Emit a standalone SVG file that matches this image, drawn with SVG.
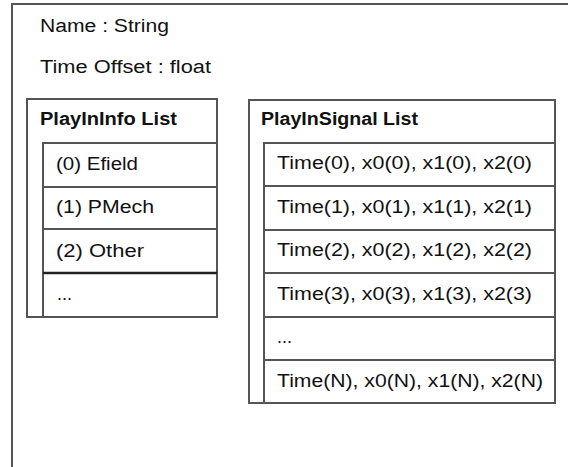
<svg xmlns="http://www.w3.org/2000/svg" width="568" height="467" viewBox="0 0 568 467">
<style>
.ln{fill:none;stroke:#555;stroke-width:2}
.t{font-family:"Liberation Sans",Arial,sans-serif;font-size:18px;fill:#111}
.b{font-weight:bold}
</style>
<rect width="568" height="467" fill="#fff"/>
<g id="outer">
<path class="ln" d="M12,467 V4 H568"/>
<text class="t" x="40" y="32" textLength="129" lengthAdjust="spacingAndGlyphs">Name : String</text>
<text class="t" x="40" y="73" textLength="171" lengthAdjust="spacingAndGlyphs">Time Offset : float</text>
</g>
<g id="playininfo">
<rect class="ln" x="27" y="99" width="190" height="218"/>
<text class="t b" x="40" y="125" textLength="137" lengthAdjust="spacingAndGlyphs">PlayInInfo List</text>
<path class="ln" d="M43,317 V143 H217 M43,187 H217 M43,229 H217"/>
<path d="M43,273 H217" stroke="#222" stroke-width="2.5"/>
<text class="t" x="56" y="170" textLength="82" lengthAdjust="spacingAndGlyphs">(0) Efield</text>
<text class="t" x="56" y="213" textLength="98" lengthAdjust="spacingAndGlyphs">(1) PMech</text>
<text class="t" x="56" y="257" textLength="88" lengthAdjust="spacingAndGlyphs">(2) Other</text>
<text class="t" x="57" y="300">...</text>
</g>
<g id="playinsignal">
<rect class="ln" x="249" y="100" width="306" height="303"/>
<text class="t b" x="261" y="125" textLength="157" lengthAdjust="spacingAndGlyphs">PlayInSignal List</text>
<path class="ln" d="M264,403 V143 H555 M264,186 H555 M264,230 H555 M264,273 H555 M264,317 H555 M264,360 H555"/>
<text class="t" x="277" y="169" textLength="255" lengthAdjust="spacingAndGlyphs">Time(0), x0(0), x1(0), x2(0)</text>
<text class="t" x="277" y="213" textLength="255" lengthAdjust="spacingAndGlyphs">Time(1), x0(1), x1(1), x2(1)</text>
<text class="t" x="277" y="256" textLength="255" lengthAdjust="spacingAndGlyphs">Time(2), x0(2), x1(2), x2(2)</text>
<text class="t" x="277" y="300" textLength="255" lengthAdjust="spacingAndGlyphs">Time(3), x0(3), x1(3), x2(3)</text>
<text class="t" x="277" y="343">...</text>
<text class="t" x="277" y="387" textLength="266" lengthAdjust="spacingAndGlyphs">Time(N), x0(N), x1(N), x2(N)</text>
</g>
<g id="connectors"/>
</svg>
